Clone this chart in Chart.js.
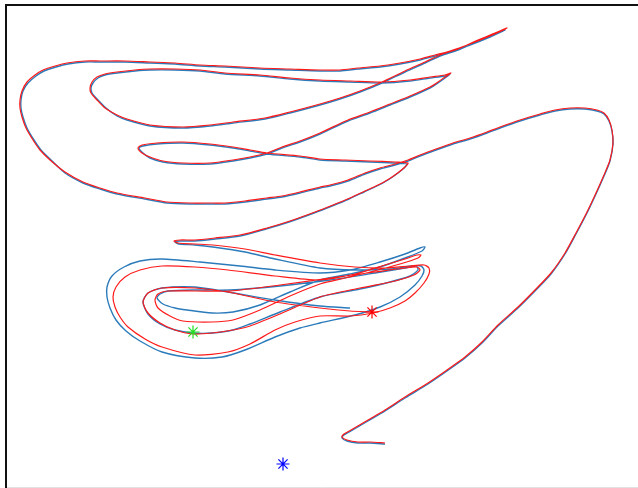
<!DOCTYPE html>
<html>
<head>
<meta charset="utf-8">
<script src="https://cdn.jsdelivr.net/npm/chart.js@4.4.1/dist/chart.umd.min.js"></script>
<style>
  html, body { margin: 0; padding: 0; background: #ffffff; }
  #plot { display: block; }
</style>
</head>
<body>
<canvas id="plot" width="638" height="488"></canvas>
<script>
// Trajectories in plot units (x to the right, y downward), one piece per named array.
// Red run: bottom tail and the long arc up the right side.
const redTail = [
  [385,443],[370,442],[358,442],[347,440],[342,437],[344,434],[351,430],[368,420],[385,410],
  [405,397],[428,383],[447,370],[465,357],[482,342],[498,325],[518,307],[535,290],[551,273],
  [565,253],[576,233],[587,212],[596,193],[604,175],[610,160],[613,143],[612,130],[609,120],
  [604,113],[597,110],[585,108],[570,108],[555,110],[540,114],[520,120],[500,127],[487,132],
  [470,138],[453,143],[436,149],[420,155],[408,160],[395,164],[380,168],[365,173],[348,180],
  [330,185],[320,187],[300,192],[282,196],[267,198],[245,201],[225,203],[213,203],[190,203]
];
const redOuter = [
  [167,202],[145,198],[117,193],[100,188],[83,182],[65,172],[50,160],[40,150],[33,140],
  [26,128],[22,117],[20,108],[20,100],[22,91],[27,82],[35,75],[43,70],[55,66],[67,63],
  [85,61],[100,61],[125,61],[150,62],[175,63],[200,65],[225,66],[260,68],[290,69],[320,70],
  [340,70],[358,68],[380,66],[400,63],[420,59],[435,55],[450,51],[470,44],[490,36],[507,28]
];
const redSecond = [
  [495,33],[478,40],[458,49],[440,55],[425,62],[405,71],[382,82],[360,91],[340,98],[320,104],
  [290,112],[265,118],[233,122],[210,125],[183,127],[150,125],[127,119],[117,115],[105,108],
  [97,100],[91,93],[90,88],[92,82],[97,77],[105,74],[117,72],[135,70],[150,69],[175,69],
  [200,70],[225,73],[260,75],[290,78],[320,80],[350,81],[382,82],[410,80],[430,77],[445,75],[451,73]
];
const redSmall = [
  [445,77],[438,82],[430,87],[410,96],[390,104],[370,112],[348,120],[320,133],[300,141],[282,147],
  [267,153],[250,157],[233,160],[210,163],[183,163],[163,161],[150,157],[142,153],[138,148],
  [142,145],[157,143],[183,142],[210,144],[233,147],[250,150],[267,153],[300,156],[320,159],
  [345,160],[370,161],[395,162],[408,163]
];
const redHairpins = [
  [405,167],[399,172],[392,177],[382,183],[365,191],[350,198],[333,205],[315,212],[290,221],
  [267,228],[240,235],[215,238],[195,240],[180,240],[174,241],[178,243],[195,244],[213,245]
];
// Red run in the lower tangle: big right loop, outer loop, tip, inner loop, small right loop, middle loop.
const redTangle = [
  [245,249],[275,255],[320,263],[355,267],[385,268],[410,266],[424,265],[429,268],[429,274],
  [424,283],[415,293],[405,301],[390,308],[373,313],[350,316],[320,316],[295,322],[275,330],
  [250,344],[228,352],[195,355],[162,347],[145,339],[128,327],[120,317],[115,307],[113,297],
  [116,287],[125,277],[140,270],[162,266],[195,267],[228,270],[275,276],[320,280],[355,274],
  [385,265],[405,259],[417,255],[421,255],[418,258],[400,264],[370,272],[345,278],[320,284],
  [290,296],[260,310],[233,320],[212,322],[183,321],[170,316],[158,308],[155,300],[158,294],
  [168,291],[195,291],[230,291],[280,285],[330,278],[375,272],[405,268],[417,267],[420,270],
  [414,275],[395,281],[360,288],[320,297],[280,314],[250,326],[233,330],[212,333],[193,334],
  [175,330],[160,323],[148,313],[143,302],[148,293],[162,288],[195,288],[228,292],[275,302],
  [320,308],[350,311],[372,312]
];

// Blue run: sits about a pixel below the red one until the tangle.
const blueTail = [
  [385,444],[370,443],[358,443],[347,441],[342,438],[344,435],[351,431],[368,421],[385,411],
  [405,398],[428,384],[447,371],[465,358],[482,343],[498,326],[518,308],[535,291],[551,274],
  [565,254],[576,234],[587,213],[596,194],[604,176],[610,161],[613,144],[612,131],[609,121],
  [604,114],[597,111],[585,109],[570,109],[555,111],[540,115],[520,121],[500,128],[487,133],
  [470,139],[453,144],[436,150],[420,156],[408,161],[395,165],[380,169],[365,174],[348,181],
  [330,186],[320,188],[300,193],[282,197],[267,199],[245,202],[225,204],[213,204],[190,204]
];
const blueOuter = [
  [167,203],[145,199],[117,194],[100,189],[83,183],[65,173],[51,160],[41,150],[34,140],
  [27,128],[23,117],[21,108],[21,100],[23,91],[28,83],[36,76],[44,71],[56,67],[68,64],
  [85,62],[100,62],[125,62],[150,63],[175,64],[200,66],[225,67],[260,69],[290,70],[320,71],
  [340,71],[358,69],[380,67],[400,64],[420,60],[435,56],[450,52],[470,45],[490,37],[505,30]
];
const blueSecond = [
  [495,34],[478,41],[458,50],[440,56],[425,63],[405,72],[382,83],[360,92],[340,99],[320,105],
  [290,113],[265,119],[233,123],[210,126],[183,128],[150,126],[127,120],[117,116],[106,108],
  [98,100],[92,93],[91,88],[93,83],[98,78],[105,75],[117,73],[135,71],[150,70],[175,70],
  [200,71],[225,74],[260,76],[290,79],[320,81],[350,82],[382,83],[410,81],[430,78],[445,76],[450,74]
];
const blueSmall = [
  [445,78],[438,83],[430,88],[410,97],[390,105],[370,113],[348,121],[320,134],[300,142],[282,148],
  [267,154],[250,158],[233,161],[210,164],[183,164],[163,162],[150,158],[143,153],[139,148],
  [143,146],[157,144],[183,143],[210,145],[233,148],[250,151],[267,154],[300,157],[320,160],
  [345,161],[370,162],[395,163],[407,164]
];
const blueHairpins = [
  [404,168],[398,173],[391,178],[381,184],[364,192],[349,199],[332,206],[314,213],[289,222],
  [266,229],[240,236],[215,239],[195,241],[180,241],[175,242],[179,244],[195,245],[213,247]
];
// Blue run in the lower tangle.
const blueTangle = [
  [245,252],[275,259],[320,268],[355,270],[390,269],[412,266],[421,266],[424,270],[422,276],
  [415,285],[400,297],[380,307],[355,315],[320,323],[300,328],[275,337],[245,350],[222,357],
  [195,358],[162,352],[140,341],[126,331],[116,320],[110,308],[107,297],[107,287],[112,276],
  [124,267],[140,261],[162,259],[200,262],[240,266],[275,270],[320,273],[350,270],[380,262],
  [405,254],[420,248],[425,247],[422,251],[405,258],[380,267],[350,274],[320,280],[290,292],
  [260,305],[233,312],[212,313],[187,310],[175,308],[163,304],[157,298],[160,294],[168,291],
  [195,290],[230,290],[280,286],[330,280],[375,273],[405,268],[416,266],[418,270],[410,276],
  [390,282],[360,289],[320,297],[280,312],[250,324],[233,330],[212,333],[193,333],[175,330],
  [160,324],[148,314],[143,302],[148,293],[162,288],[195,287],[228,292],[275,300],[320,306],
  [350,308]
];

// Marked positions.
const blueMark = [283,464];
const greenMark = [193,332];
const redMark = [372,312];

const toPoints = pairs => pairs.map(([x, y]) => ({ x, y }));
const redRoute = [].concat(redTail, redOuter, redSecond, redSmall, redHairpins, redTangle);
const blueRoute = [].concat(blueTail, blueOuter, blueSecond, blueSmall, blueHairpins, blueTangle);

const frame = {
  id: 'frame',
  afterDraw(chart) {
    const c = chart.ctx;
    c.save();
    c.strokeStyle = '#111111';
    c.lineWidth = 2;
    c.beginPath();
    c.moveTo(6, 488);
    c.lineTo(6, 5);
    c.lineTo(638, 5);
    c.stroke();
    c.strokeStyle = '#e2e2e2';
    c.lineWidth = 1;
    c.beginPath();
    c.moveTo(7, 487.5);
    c.lineTo(638, 487.5);
    c.stroke();
    c.restore();
  }
};

new Chart(document.getElementById('plot'), {
  type: 'scatter',
  data: {
    datasets: [
      {
        label: 'marks',
        data: [
          { x: blueMark[0], y: blueMark[1] },
          { x: greenMark[0], y: greenMark[1] },
          { x: redMark[0], y: redMark[1] }
        ],
        pointStyle: 'star',
        pointRadius: 6.5,
        borderWidth: 1.2,
        pointBorderColor: ['#0000ff', '#22dd22', '#ff0000'],
        pointBackgroundColor: 'rgba(0,0,0,0)',
        showLine: false,
        clip: false,
        order: 0
      },
      {
        label: 'red run',
        data: toPoints(redRoute),
        showLine: true,
        borderColor: '#ff1a1a',
        borderWidth: 1.2,
        pointRadius: 0,
        tension: 0.25,
        order: 1
      },
      {
        label: 'blue run',
        data: toPoints(blueRoute),
        showLine: true,
        borderColor: '#2b7bbb',
        borderWidth: 1.4,
        pointRadius: 0,
        tension: 0.25,
        order: 2
      }
    ]
  },
  options: {
    responsive: false,
    animation: false,
    devicePixelRatio: 1,
    layout: { autoPadding: false, padding: { left: 7, top: 6, right: 0, bottom: 1 } },
    plugins: { legend: { display: false }, tooltip: { enabled: false } },
    scales: {
      x: { type: 'linear', display: false, min: 7, max: 638 },
      y: { type: 'linear', display: false, reverse: true, min: 6, max: 487 }
    }
  },
  plugins: [frame]
});
</script>
</body>
</html>
